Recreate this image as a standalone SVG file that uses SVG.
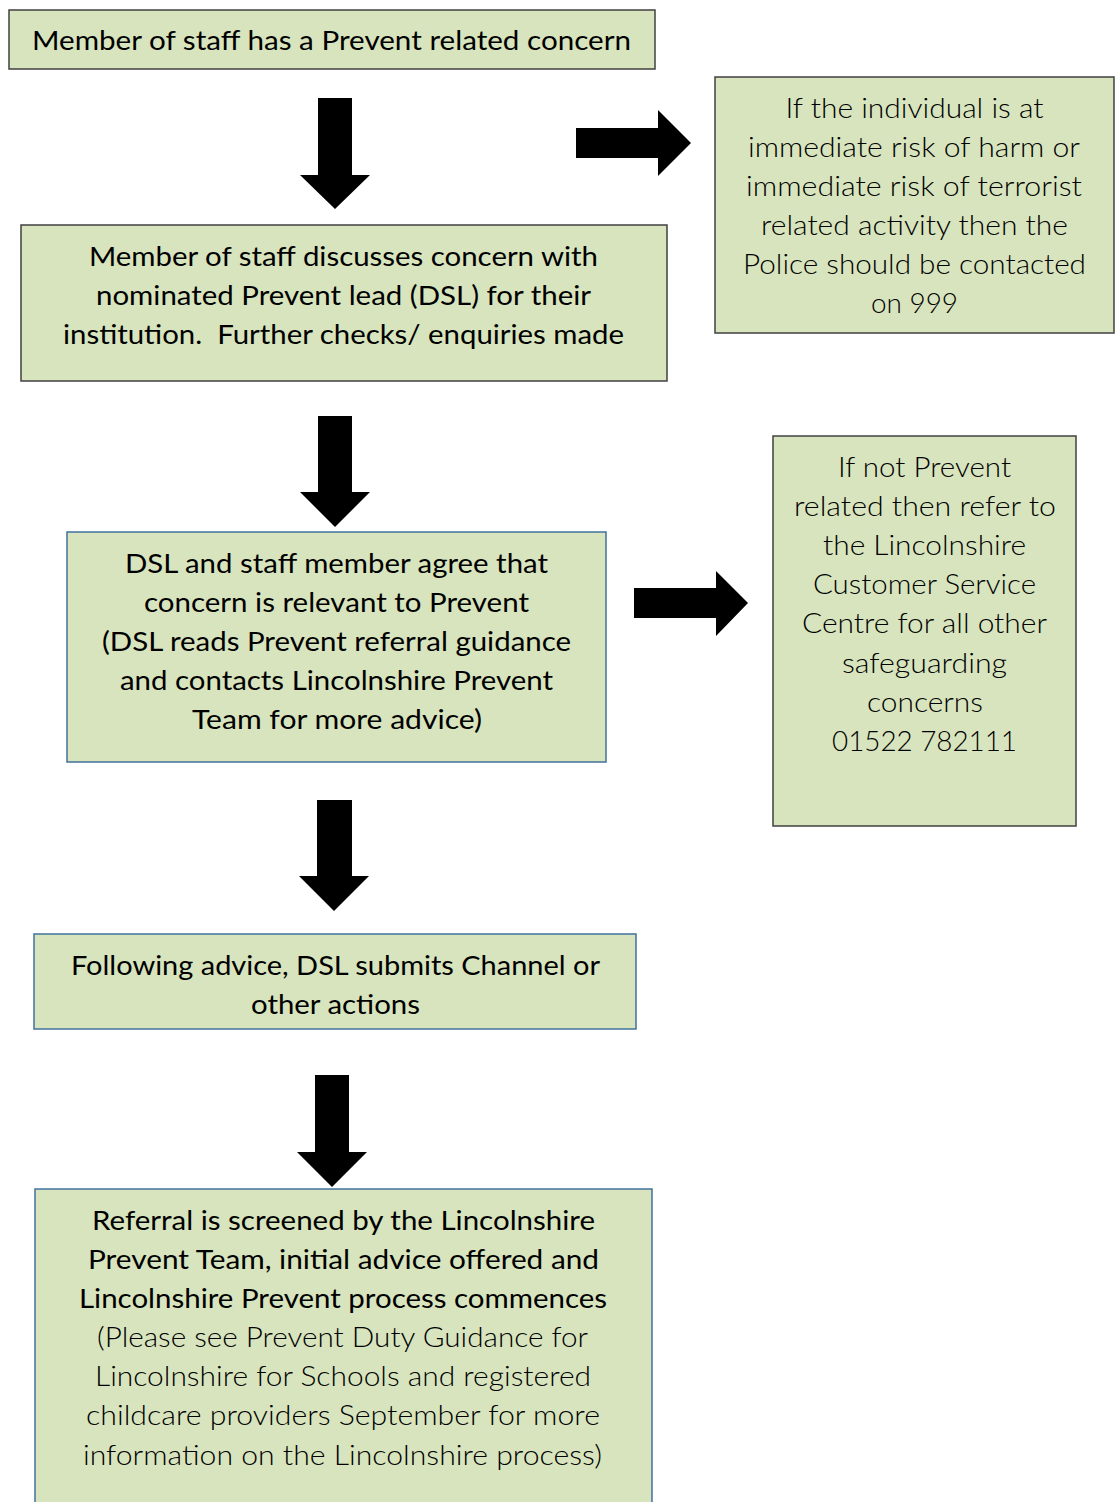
<svg xmlns="http://www.w3.org/2000/svg" width="1116" height="1502" viewBox="0 0 1116 1502">
<style>
.box{fill:#d7e4bd;stroke:#404040;stroke-width:1.5}
.boxb{fill:#d7e4bd;stroke:#41719c;stroke-width:1.5}
text{font-family:Lato,"Liberation Sans",sans-serif;font-size:26.5px;fill:#000;text-anchor:middle}
.lt{font-weight:300}
.arr{fill:#000}
</style>
<rect width="1116" height="1502" fill="#fff"/>
<g id="connectors">
<polygon class="arr" points="318,98 352,98 352,175 370,175 335,209 300,175 318,175"/>
<polygon class="arr" points="576,128 658,128 658,110 691,143 658,176 658,158 576,158"/>
<polygon class="arr" points="318,416 352,416 352,492 370,492 335,527 300,492 318,492"/>
<polygon class="arr" points="634,588 716,588 716,571 748,603 716,636 716,618 634,618"/>
<polygon class="arr" points="317,800 352,800 352,876 369,876 334,911 299,876 317,876"/>
<polygon class="arr" points="315,1075 349,1075 349,1152 367,1152 332,1187 297,1152 315,1152"/>
</g>
<g id="n1">
<rect class="box" x="9" y="10" width="646" height="59"/>
<text x="331.5" y="50" textLength="599" lengthAdjust="spacingAndGlyphs">Member of staff has a Prevent related concern</text>
</g>
<g id="n2">
<rect class="box" x="21" y="225" width="646" height="156"/>
<text x="343.5" y="266" textLength="509" lengthAdjust="spacingAndGlyphs">Member of staff discusses concern with</text>
<text x="343.5" y="305" textLength="495" lengthAdjust="spacingAndGlyphs">nominated Prevent lead (DSL) for their</text>
<text x="343.5" y="344" textLength="561" lengthAdjust="spacingAndGlyphs" style="white-space:pre">institution.  Further checks/ enquiries made</text>
</g>
<g id="n3">
<rect class="box" x="715" y="77" width="399" height="256"/>
<text class="lt" x="914.5" y="118" textLength="258" lengthAdjust="spacingAndGlyphs">If the individual is at</text>
<text class="lt" x="914" y="157" textLength="332" lengthAdjust="spacingAndGlyphs">immediate risk of harm or</text>
<text class="lt" x="914" y="196" textLength="336" lengthAdjust="spacingAndGlyphs">immediate risk of terrorist</text>
<text class="lt" x="914.5" y="235" textLength="307" lengthAdjust="spacingAndGlyphs">related activity then the</text>
<text class="lt" x="914.5" y="274" textLength="343" lengthAdjust="spacingAndGlyphs">Police should be contacted</text>
<text class="lt" x="914.5" y="313" textLength="87" lengthAdjust="spacingAndGlyphs">on 999</text>
</g>
<g id="n4">
<rect class="boxb" x="67" y="532" width="539" height="230"/>
<text x="336.5" y="573" textLength="423" lengthAdjust="spacingAndGlyphs">DSL and staff member agree that</text>
<text x="336.5" y="612" textLength="385" lengthAdjust="spacingAndGlyphs">concern is relevant to Prevent</text>
<text x="336.5" y="651" textLength="469" lengthAdjust="spacingAndGlyphs">(DSL reads Prevent referral guidance</text>
<text x="336.5" y="690" textLength="433" lengthAdjust="spacingAndGlyphs">and contacts Lincolnshire Prevent</text>
<text x="337" y="729" textLength="290" lengthAdjust="spacingAndGlyphs">Team for more advice)</text>
</g>
<g id="n5">
<rect class="box" x="773" y="436" width="303" height="390"/>
<text class="lt" x="924.5" y="477" textLength="173" lengthAdjust="spacingAndGlyphs">If not Prevent</text>
<text class="lt" x="925" y="516" textLength="262" lengthAdjust="spacingAndGlyphs">related then refer to</text>
<text class="lt" x="924.5" y="555" textLength="203" lengthAdjust="spacingAndGlyphs">the Lincolnshire</text>
<text class="lt" x="924.5" y="594" textLength="223" lengthAdjust="spacingAndGlyphs">Customer Service</text>
<text class="lt" x="924.5" y="633" textLength="245" lengthAdjust="spacingAndGlyphs">Centre for all other</text>
<text class="lt" x="924.5" y="673" textLength="165" lengthAdjust="spacingAndGlyphs">safeguarding</text>
<text class="lt" x="925" y="712" textLength="116" lengthAdjust="spacingAndGlyphs">concerns</text>
<text class="lt" x="924.5" y="751" textLength="185" lengthAdjust="spacingAndGlyphs">01522 782111</text>
</g>
<g id="n6">
<rect class="boxb" x="34" y="934" width="602" height="95"/>
<text x="335.5" y="975" textLength="529" lengthAdjust="spacingAndGlyphs">Following advice, DSL submits Channel or</text>
<text x="335.5" y="1014" textLength="169" lengthAdjust="spacingAndGlyphs">other actions</text>
</g>
<g id="n7">
<rect class="boxb" x="35" y="1189" width="617" height="320"/>
<text x="343.5" y="1230" textLength="503" lengthAdjust="spacingAndGlyphs">Referral is screened by the Lincolnshire</text>
<text x="343.5" y="1269" textLength="511" lengthAdjust="spacingAndGlyphs">Prevent Team, initial advice offered and</text>
<text x="343" y="1308" textLength="528" lengthAdjust="spacingAndGlyphs">Lincolnshire Prevent process commences</text>
<text class="lt" x="342.5" y="1347" textLength="491" lengthAdjust="spacingAndGlyphs">(Please see Prevent Duty Guidance for</text>
<text class="lt" x="343" y="1386" textLength="496" lengthAdjust="spacingAndGlyphs">Lincolnshire for Schools and registered</text>
<text class="lt" x="343" y="1425" textLength="514" lengthAdjust="spacingAndGlyphs">childcare providers September for more</text>
<text class="lt" x="342.5" y="1465" textLength="519" lengthAdjust="spacingAndGlyphs">information on the Lincolnshire process)</text>
</g>
</svg>
